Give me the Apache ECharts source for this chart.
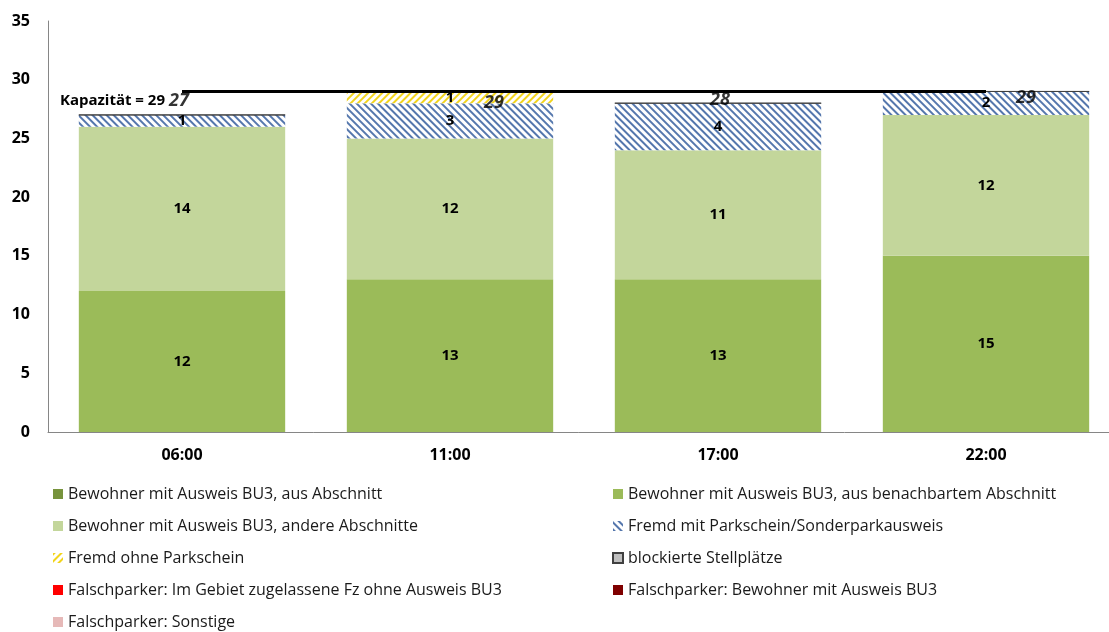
<!DOCTYPE html>
<html>
<head>
<meta charset="utf-8">
<script src="https://cdn.jsdelivr.net/npm/echarts@6/dist/echarts.min.js"></script>
<style>
html,body{margin:0;padding:0;background:#fff;}
#chart{width:1109px;height:632px;}
</style>
</head>
<body>
<div id="chart"></div>
<script>
const categories = ['06:00', '11:00', '17:00', '22:00'];
const ausAbschnitt = [0, 0, 0, 0];
const ausNachbar = [12, 13, 13, 15];
const andereAbschnitte = [14, 12, 11, 12];
const fremdMitParkschein = [1, 3, 4, 2];
const fremdOhneParkschein = [0, 1, 0, 0];
const blockierte = [0, 0, 0, 0];
const falschImGebiet = [0, 0, 0, 0];
const falschBewohner = [0, 0, 0, 0];
const falschSonstige = [0, 0, 0, 0];
const totals = [27, 29, 28, 29];
const kapazitaet = [29, 29, 29, 29];
const yTicks = { min: 0, max: 35, interval: 5 };

const FONT = 'Open Sans';
const names = {
  a: 'Bewohner mit Ausweis BU3, aus Abschnitt',
  b: 'Bewohner mit Ausweis BU3, aus benachbartem Abschnitt',
  c: 'Bewohner mit Ausweis BU3, andere Abschnitte',
  d: 'Fremd mit Parkschein/Sonderparkausweis',
  e: 'Fremd ohne Parkschein',
  f: 'blockierte Stellplätze',
  g: 'Falschparker: Im Gebiet zugelassene Fz ohne Ausweis BU3',
  h: 'Falschparker: Bewohner mit Ausweis BU3',
  i: 'Falschparker: Sonstige'
};

const segLabel = {
  show: true,
  position: 'inside',
  color: '#000',
  fontFamily: FONT,
  fontWeight: 'bold',
  fontSize: 15,
  formatter: p => (p.value ? String(p.value) : '')
};

function barSeries(name, data, itemStyle) {
  return {
    type: 'bar', name, data, stack: 'total', barWidth: '77%',
    itemStyle, label: segLabel, silent: true
  };
}

const blueHatch = {
  color: '#ffffff',
  decal: { symbol: 'rect', symbolSize: 1, dashArrayX: [1, 0], dashArrayY: [2, 3], rotation: Math.PI / 4, color: '#5577ad' }
};
const yellowHatch = {
  color: '#ffffff',
  decal: { symbol: 'rect', symbolSize: 1, dashArrayX: [1, 0], dashArrayY: [2, 3], rotation: -Math.PI / 4, color: '#f2d41c' }
};

const totalOffsets = [[-3, -14], [44, 11], [2, -3], [40, 6]];

const legendText = { fontFamily: FONT, fontSize: 16, color: '#1a1a1a', lineHeight: 18 };

const option = {
  animation: false,
  backgroundColor: '#ffffff',
  grid: { left: 48, right: -11, top: 21, bottom: 200, containLabel: false, outerBoundsMode: 'none' },
  xAxis: {
    type: 'category',
    data: categories,
    axisLine: { show: true, lineStyle: { color: '#868686', width: 1 } },
    axisTick: { show: false },
    axisLabel: { color: '#000', fontFamily: FONT, fontWeight: 'bold', fontSize: 16, margin: 15 }
  },
  yAxis: {
    type: 'value',
    min: yTicks.min, max: yTicks.max, interval: yTicks.interval,
    splitLine: { show: false },
    axisLine: { show: true, lineStyle: { color: '#868686', width: 1 } },
    axisTick: { show: false },
    axisLabel: { color: '#000', fontFamily: FONT, fontWeight: 'bold', fontSize: 16, margin: 18 }
  },
  legend: [
    {
      orient: 'vertical', left: 48, top: 480, height: 200, itemWidth: 10, itemHeight: 10, itemGap: 14,
      selectedMode: false, icon: 'rect',
      textStyle: legendText,
      data: [names.a, names.c, names.e, names.g, names.i]
    },
    {
      orient: 'vertical', left: 607, top: 480, height: 200, itemWidth: 10, itemHeight: 10, itemGap: 14,
      selectedMode: false, icon: 'rect',
      textStyle: legendText,
      data: [names.b, names.d, names.f, names.h]
    }
  ],
  series: [
    barSeries(names.a, ausAbschnitt, { color: '#77933c' }),
    barSeries(names.b, ausNachbar, { color: '#9bbb59' }),
    barSeries(names.c, andereAbschnitte, { color: '#c3d69b' }),
    barSeries(names.d, fremdMitParkschein, blueHatch),
    barSeries(names.e, fremdOhneParkschein, yellowHatch),
    barSeries(names.f, blockierte, { color: '#bfbfbf', borderColor: '#404040', borderWidth: 1 }),
    barSeries(names.g, falschImGebiet, { color: '#ff0000' }),
    barSeries(names.h, falschBewohner, { color: '#7f0000' }),
    barSeries(names.i, falschSonstige, { color: '#e6b9b8' }),
    {
      type: 'line', name: 'Kapazität', silent: true, z: 5,
      symbol: 'circle', symbolSize: 0, showSymbol: true,
      itemStyle: { color: '#000' },
      lineStyle: { color: '#000', width: 3 },
      data: kapazitaet.map((v, i) => i === 0 ? {
        value: v,
        label: {
          show: true, position: 'left', distance: 14, offset: [-3, 9],
          formatter: 'Kapazität = ' + v,
          color: '#000', fontFamily: FONT, fontWeight: 'bold', fontSize: 15
        }
      } : v)
    },
    {
      type: 'scatter', name: 'Summe', silent: true, z: 6,
      symbolSize: 0,
      data: totals.map((v, i) => ({
        value: v,
        label: {
          show: true, position: 'inside', offset: totalOffsets[i],
          formatter: String(v),
          color: '#000', fontFamily: FONT, fontWeight: 'bold', fontStyle: 'italic', fontSize: 18
        }
      }))
    }
  ]
};

const chart = echarts.init(document.getElementById('chart'), null, { renderer: 'canvas' });
chart.setOption(option);
</script>
</body>
</html>
